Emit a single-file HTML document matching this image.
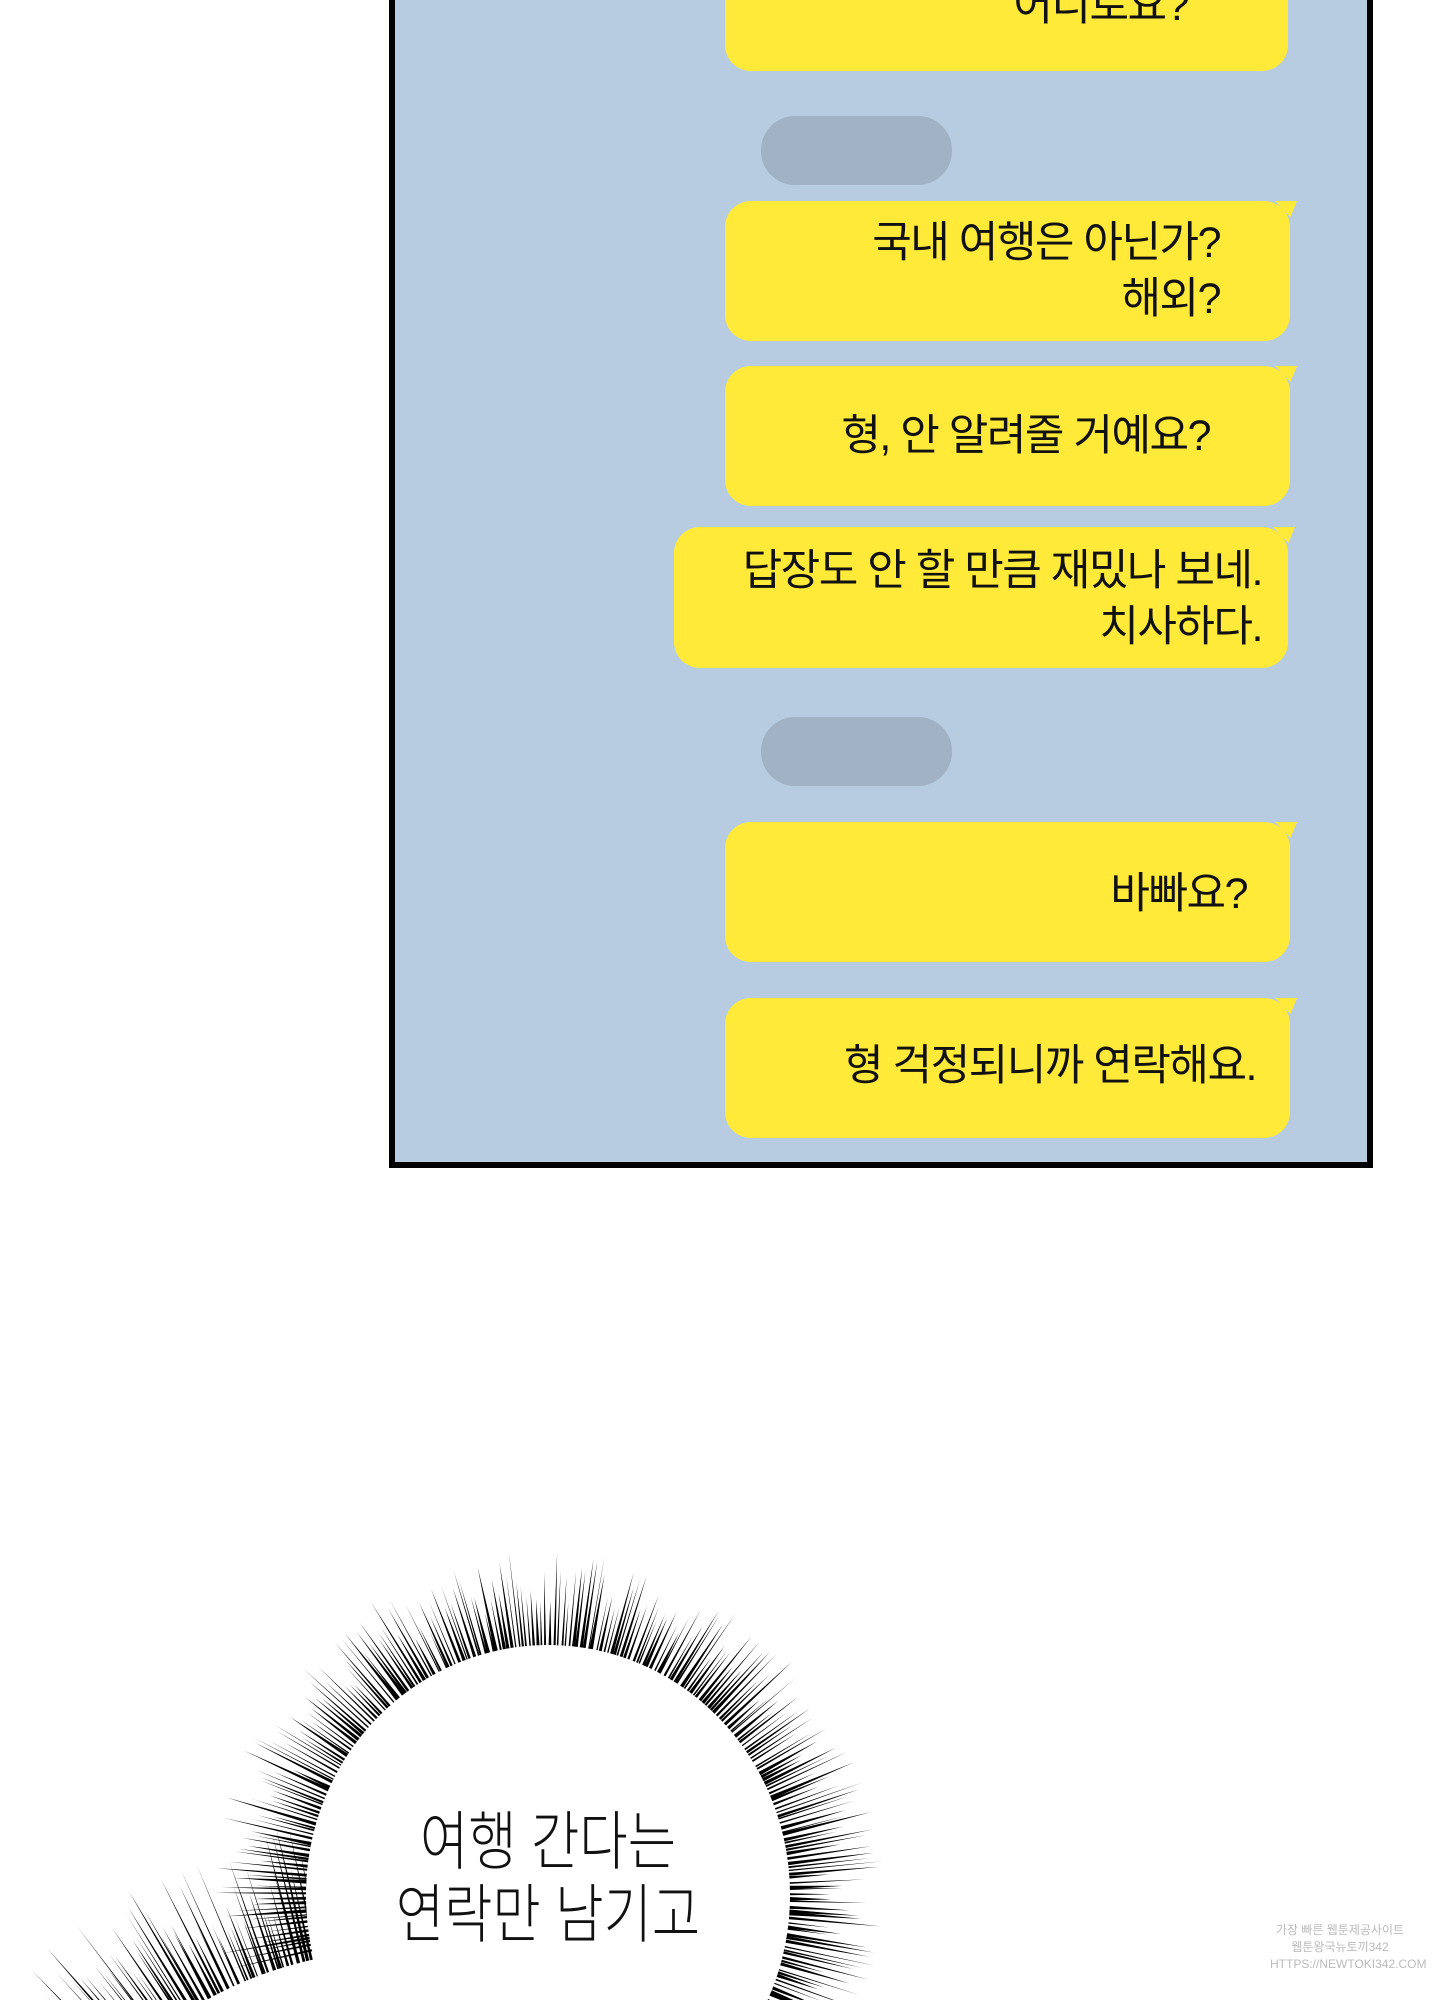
<!DOCTYPE html>
<html><head><meta charset="utf-8">
<style>
html,body{margin:0;padding:0;background:#fff;width:1440px;height:2000px;overflow:hidden;}
body{position:relative;font-family:"Liberation Sans","Noto Sans CJK KR",sans-serif;}
.frame{position:absolute;left:389px;top:-10px;width:972px;height:1172px;background:#b7cce1;border:6px solid #000;border-top:none;}
.b{position:absolute;background:#ffea3a;border-radius:26px;color:#111;font-size:43px;line-height:56px;letter-spacing:-1.5px;text-align:right;box-sizing:border-box;}
.b::after{content:"";position:absolute;right:-7px;top:0;width:22px;height:16px;background:#ffea3a;clip-path:polygon(0 0,100% 0,70% 100%);}
.g{position:absolute;background:#a0b2c3;border-radius:34px;}
.t{position:absolute;font-family:"Liberation Sans","Noto Sans CJK KR",sans-serif;font-weight:300;font-size:64px;color:#111;text-align:center;line-height:73px;transform:scaleX(0.82);}
</style></head><body>
<div class="frame"></div>
<div class="b" style="left:725px;top:-60px;width:563px;height:131px;"><div style="position:absolute;right:100px;top:38px;">어디로요?</div></div>
<div class="g" style="left:761px;top:116px;width:191px;height:69px;"></div>
<div class="b" style="left:725px;top:201px;width:565px;height:140px;padding:14px 70px 0 0;">국내 여행은 아닌가?<br>해외?</div>
<div class="b" style="left:725px;top:366px;width:565px;height:140px;padding:42px 80px 0 0;">형, 안 알려줄 거예요?</div>
<div class="b" style="left:674px;top:527px;width:614px;height:141px;padding:16px 26px 0 0;">답장도 안 할 만큼 재밌나 보네.<br>치사하다.</div>
<div class="g" style="left:761px;top:717px;width:191px;height:69px;"></div>
<div class="b" style="left:725px;top:822px;width:565px;height:140px;padding:44px 43px 0 0;">바빠요?</div>
<div class="b" style="left:725px;top:998px;width:565px;height:140px;padding:40px 34px 0 0;">형 걱정되니까 연락해요.</div>
<svg id="s" width="1440" height="2000" style="position:absolute;left:0;top:0;overflow:hidden;"></svg>
<div class="t" style="left:348px;top:1806px;width:400px;">여행 간다는<br>연락만 남기고</div>
<div style="position:absolute;left:1270px;top:1922px;width:140px;font-size:12px;line-height:17px;color:#bbb;text-align:center;white-space:nowrap;">가장 빠른 웹툰제공사이트<br>웹툰왕국뉴토끼342<br>HTTPS://NEWTOKI342.COM</div>
<script>
var s=document.getElementById('s'),seed=7;
function r(){seed=(seed*9301+49297)%233280;return seed/233280;}
var h='';
function burst(cx,cy,rx,ry,a0,a1,n,minL,maxL,wmax){
 for(var i=0;i<n;i++){
  var a=a0+(a1-a0)*i/n+(r()-0.5)*0.01;
  var c=Math.cos(a),sn=Math.sin(a);
  var x0=cx+rx*c,y0=cy+ry*sn;
  var L=minL+(maxL-minL)*r();
  var x1=x0+L*c,y1=y0+L*sn;
  var w=0.6+r()*wmax;
  var px=-sn*w,py=c*w;
  h+='<polygon points="'+(x0+px).toFixed(1)+','+(y0+py).toFixed(1)+' '+(x0-px).toFixed(1)+','+(y0-py).toFixed(1)+' '+x1.toFixed(1)+','+y1.toFixed(1)+'" fill="#000"/>';
 }
}
burst(400,2350,400,400,Math.PI*1.25,Math.PI*1.47,70,50,140,1.2);
h+='<ellipse cx="548" cy="1895" rx="242" ry="250" fill="#fff"/>';
burst(548,1895,242,250,Math.PI*0.93,Math.PI*2.45,300,40,95,1.3);
s.innerHTML=h;
</script>
</body></html>
